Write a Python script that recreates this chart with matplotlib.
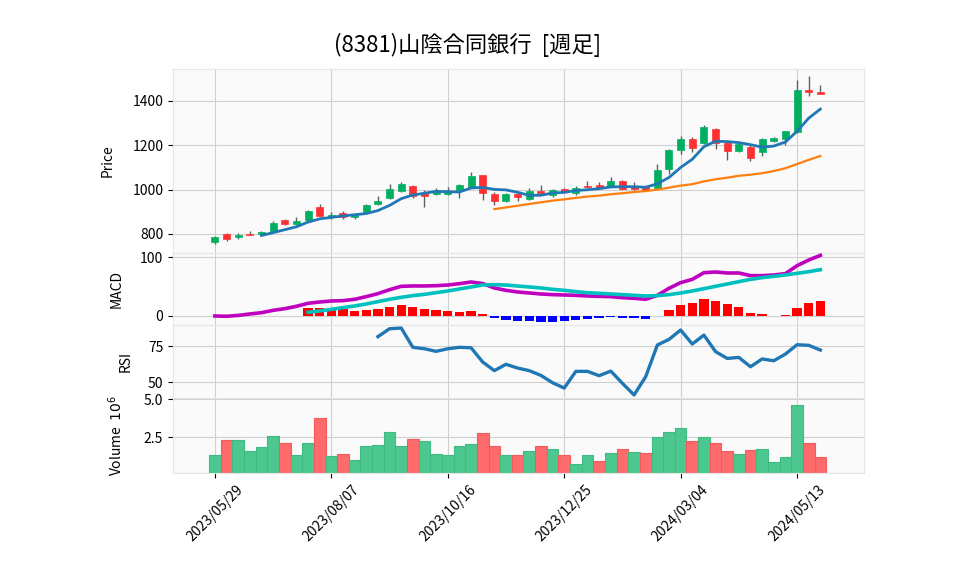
import numpy as np
import pandas as pd
import matplotlib.pyplot as plt

plt.rcParams['font.family'] = ['Noto Sans CJK JP', 'DejaVu Sans']
plt.rcParams['axes.unicode_minus'] = False

# 週足データ (2023/05/29 - 2024/05/27)
opens = [763, 801, 785, 801, 798, 815, 864, 843, 861, 922,
         875, 895, 875, 897, 933, 960, 994, 1016, 984, 978,
         979, 1000, 1012, 1066, 981, 950, 981, 958, 994, 977,
         1003, 985, 1016, 1020, 1018, 1037, 1013, 1010, 1005, 1094,
         1179, 1229, 1212, 1275, 1209, 1174, 1194, 1168, 1218, 1230,
         1258, 1449, 1440]
highs = [792, 804, 803, 813, 815, 858, 869, 876, 906, 934,
         897, 904, 890, 936, 969, 1025, 1033, 1022, 998, 1006,
         1013, 1027, 1078, 1068, 989, 984, 984, 1006, 1021, 1001,
         1006, 1016, 1041, 1034, 1055, 1042, 1033, 1013, 1114, 1181,
         1243, 1237, 1293, 1278, 1213, 1209, 1200, 1234, 1237, 1266,
         1493, 1511, 1472]
lows = [755, 770, 779, 795, 794, 812, 839, 839, 858, 878,
        867, 869, 867, 893, 930, 957, 990, 961, 921, 974,
        976, 961, 1008, 953, 929, 946, 950, 954, 979, 966,
        990, 975, 1007, 1005, 1014, 999, 998, 997, 1000, 1072,
        1159, 1168, 1205, 1182, 1133, 1168, 1131, 1153, 1215, 1200,
        1255, 1420, 1429]
closes = [787, 776, 795, 797, 810, 851, 843, 860, 904, 882,
          885, 875, 887, 931, 949, 1001, 1027, 970, 971, 991,
          993, 1021, 1061, 983, 947, 981, 966, 994, 984, 999,
          994, 1008, 1011, 1009, 1037, 1003, 1004, 1000, 1087, 1179,
          1229, 1189, 1284, 1209, 1172, 1206, 1143, 1227, 1234, 1263,
          1449, 1438, 1432]
volumes = [1.31, 2.30, 2.30, 1.57, 1.84, 2.57, 2.10, 1.31, 2.10, 3.74,
           1.24, 1.37, 0.98, 1.90, 1.97, 2.83, 1.90, 2.37, 2.23, 1.37,
           1.31, 1.90, 2.04, 2.77, 1.90, 1.31, 1.31, 1.57, 1.90, 1.70,
           1.31, 0.71, 1.31, 0.91, 1.44, 1.70, 1.50, 1.44, 2.50, 2.83,
           3.10, 2.23, 2.50, 2.10, 1.57, 1.37, 1.64, 1.70, 0.84, 1.17,
           4.62, 2.10, 1.17]  # 10^6

macd = [0, -0.5, 1, 3.4, 5.6, 9.6, 12.4, 16.4, 21.5, 23.7,
        25.4, 26, 28.3, 32.8, 37.9, 44.6, 50.3, 50.9, 50.9, 51.4,
        52.5, 54.8, 57.6, 55, 47.5, 43.5, 40.7, 39, 37.3, 36.2,
        35.6, 35, 33.9, 33.3, 32.8, 31, 30, 28.3, 35, 46.9,
        56.5, 62.1, 73.4, 74.6, 72.9, 72.9, 68.4, 68.4, 69.5, 71.8,
        85.3, 94.9, 102.8]
signal = [np.nan] * 8 + [6.2, 8.5,
          11.3, 14.1, 17, 20.3, 24.3, 28.3, 31.6, 34.5, 36.7, 39.5,
          42.4, 45.8, 49.2, 52.5, 53.1, 52.5, 50.8, 49.2, 47.5, 45.2,
          43.5, 41.2, 39.5, 38.4, 37.3, 36.2, 35, 33.9, 34.5, 36.2,
          39, 42.4, 46.3, 50.3, 54.2, 58.2, 62.1, 65, 67.2, 69.5,
          72.3, 75.1, 78.5]
hist = [np.nan] * 8 + [14.1, 14.1,
        11.3, 11.9, 8.5, 10.2, 11.9, 15.3, 18.6, 15.3, 11.9, 10.2,
        8.5, 6.8, 8.5, 3.4, -2.8, -6.2, -7.9, -7.9, -9.6, -9.6,
        -7.9, -6.2, -4.5, -2.8, -1.7, -2.8, -2.8, -4.5, 0, 10.2,
        18.6, 22, 28.8, 25.4, 20.3, 15.3, 5.1, 3.4, 0, 1.7,
        13.6, 22, 25.4]
rsi = [np.nan] * 14 + [81.5, 87, 87.5, 74.1, 73.1, 71.3,
       73.1, 74.1, 73.8, 63.9, 57.9, 62.3, 59.7, 57.9, 54.6, 49.5,
       45.8, 57.4, 57.4, 54.4, 57.6, 49.1, 41, 53.7, 75.7, 79.6,
       86.1, 76.4, 82.6, 71.1, 66.4, 67.1, 60.6, 66, 64.8, 69.4,
       75.9, 75.5, 72.2]

tick_pos = [0, 10, 20, 30, 40, 50]
tick_labels = ['2023/05/29', '2023/08/07', '2023/10/16',
               '2023/12/25', '2024/03/04', '2024/05/13']

df = pd.DataFrame({'Open': opens, 'High': highs, 'Low': lows,
                   'Close': closes, 'Volume': volumes})
x = np.arange(len(df))
df['ma5'] = df['Close'].rolling(5).mean()
df['ma25'] = df['Close'].rolling(25).mean()

up = df['Close'] >= df['Open']
c_up, c_dn = '#00b060', '#fe3032'
vup = df['Close'] >= df['Close'].shift(1).fillna(0)

fig = plt.figure(figsize=(9.58, 5.75), dpi=100)
W, H = 958, 575
L, R = 173, 864


def panel(top, bot):
    return fig.add_axes([L / W, 1 - bot / H, (R - L) / W, (bot - top) / H])


ax1 = panel(69, 253)
ax2 = panel(253, 325)
ax3 = panel(325, 398)
ax4 = panel(398, 473)

for ax in (ax1, ax2, ax3, ax4):
    ax.set_facecolor('#fafafa')
    ax.grid(True, color='#d0d0d0', linewidth=0.8)
    ax.set_axisbelow(True)
    ax.set_xlim(-3.6, 55.75)
    ax.set_xticks(tick_pos)
    for s in ax.spines.values():
        s.set_color('#e6e6e6')
    ax.tick_params(labelsize=10)
    ax.tick_params(axis='x', labelbottom=False)

# ローソク足
ax1.vlines(x, df['Low'], df['High'], color='#606060', linewidth=1, zorder=2)
body_b = np.minimum(df['Open'], df['Close'])
body_h = np.abs(df['Close'] - df['Open'])
cols = [c_up if u else c_dn for u in up]
ax1.bar(x, body_h, bottom=body_b, width=0.6, color=cols, edgecolor=cols,
        linewidth=0.5, zorder=3)
ax1.plot(x, df['ma5'], color='#1f77b4', linewidth=2, zorder=4)
ax1.plot(x, df['ma25'], color='#ff7f0e', linewidth=1.6, zorder=4)
ax1.set_ylim(714, 1544)
ax1.set_yticks([800, 1000, 1200, 1400])
ax1.set_ylabel('Price', fontsize=10)
ax1.yaxis.set_label_coords(-0.084, 0.5)

# MACD
hc = ['r' if (h >= 0) else 'b' for h in np.nan_to_num(hist)]
ax2.bar(x, np.nan_to_num(hist), width=0.8, color=hc, zorder=2)
ax2.plot(x, macd, color='m', linewidth=2.6, zorder=3)
ax2.plot(x, signal, color='c', linewidth=2.6, zorder=3)
ax2.set_ylim(-15.3, 106.8)
ax2.set_yticks([0, 100])
ax2.set_ylabel('MACD', fontsize=10)
ax2.yaxis.set_label_coords(-0.071, 0.5)

# RSI
ax3.plot(x, rsi, color='#1f77b4', linewidth=2.4)
ax3.set_ylim(38.9, 89.6)
ax3.set_yticks([50, 75])
ax3.set_ylabel('RSI', fontsize=10)
ax3.yaxis.set_label_coords(-0.058, 0.5)

# 出来高
vcols = ['#4dc790' if v else '#fd6b6c' for v in vup]
vedge = ['#3fba82' if v else '#f25a5b' for v in vup]
ax4.bar(x, df['Volume'], width=1.0, color=vcols, edgecolor=vedge,
        linewidth=0.8, zorder=2)
ax4.set_ylim(0.13, 5.07)
ax4.set_yticks([2.5, 5.0])
ax4.set_yticklabels(['2.5', '5.0'])
ax4.set_ylabel('Volume  $10^{6}$', fontsize=10)
ax4.yaxis.set_label_coords(-0.069, 0.5)
ax4.tick_params(axis='x', labelbottom=True)
ax4.set_xticklabels(tick_labels, rotation=45, ha='center', fontsize=10)

fig.suptitle('(8381)山陰合同銀行  [週足]', x=468 / W, y=1 - 45 / H,
             fontsize=16, va='center')

fig.savefig('out.png', dpi=100)
